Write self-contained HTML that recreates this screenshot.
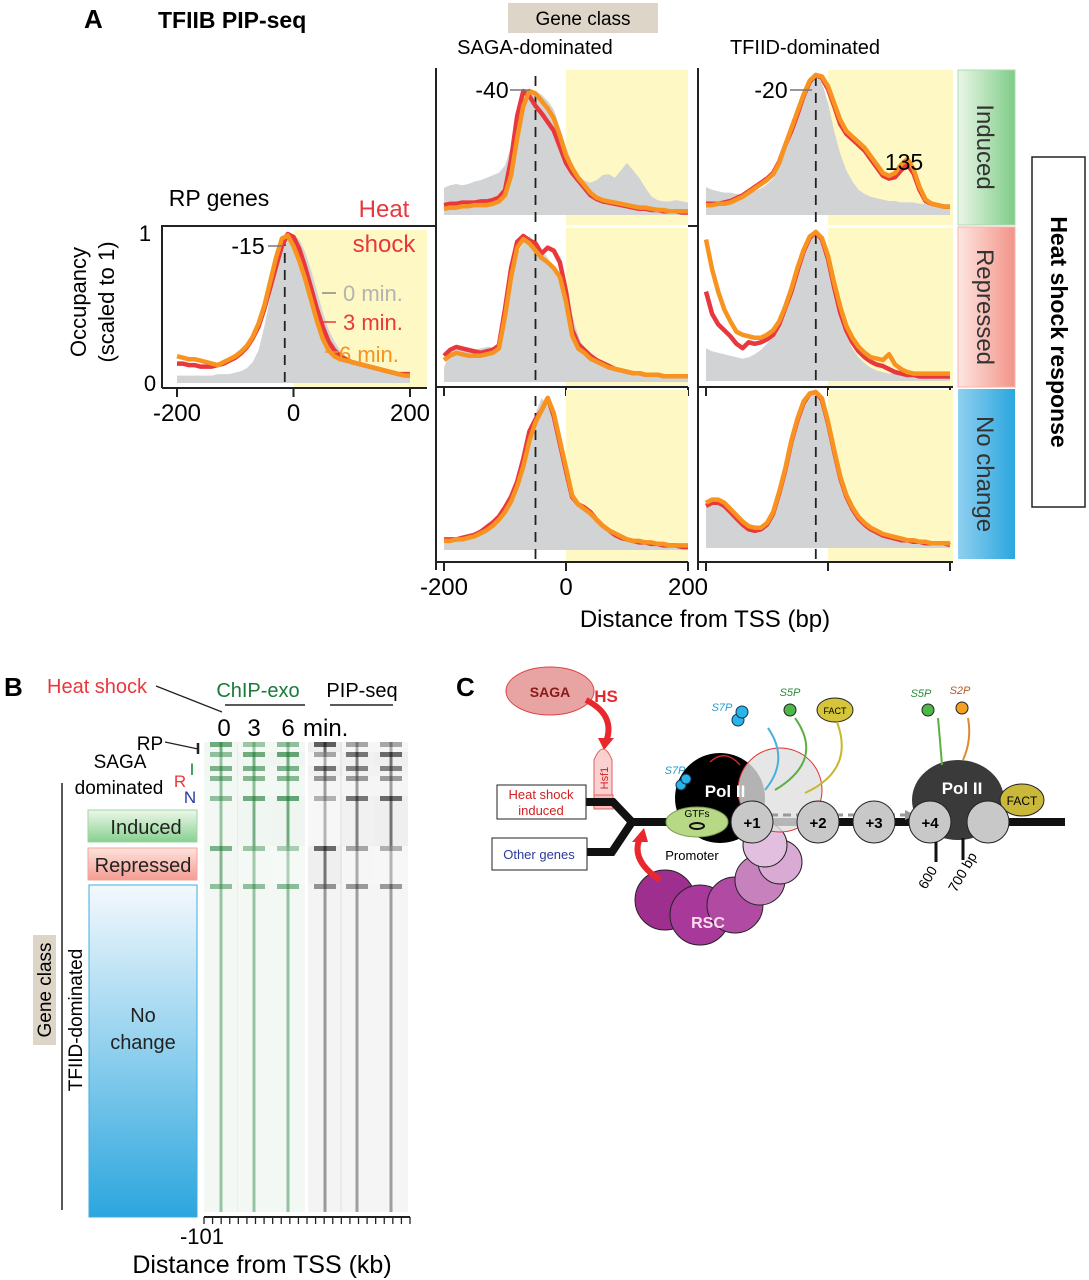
<!DOCTYPE html>
<html><head><meta charset="utf-8"><style>
html,body{margin:0;padding:0;background:#fff}
svg{display:block;font-family:"Liberation Sans",sans-serif}
</style></head><body>
<svg id="fig" width="1089" height="1280" viewBox="0 0 1089 1280">
<defs>
<linearGradient id="gInd" x1="0" y1="0" x2="0" y2="1"><stop offset="0" stop-color="#eef8ea"/><stop offset="1" stop-color="#86d08f"/></linearGradient>
<linearGradient id="gRep" x1="0" y1="0" x2="0" y2="1"><stop offset="0" stop-color="#fde3dc"/><stop offset="1" stop-color="#f39c92"/></linearGradient>
<linearGradient id="gNo" x1="0" y1="0" x2="0" y2="1"><stop offset="0" stop-color="#f4f9fd"/><stop offset="1" stop-color="#2ba6de"/></linearGradient>
<linearGradient id="gIndH" x1="0" y1="0" x2="1" y2="0"><stop offset="0" stop-color="#eaf6e6"/><stop offset="1" stop-color="#7fcc88"/></linearGradient>
<linearGradient id="gRepH" x1="0" y1="0" x2="1" y2="0"><stop offset="0" stop-color="#fde6e0"/><stop offset="1" stop-color="#f29388"/></linearGradient>
<linearGradient id="gNoH" x1="0" y1="0" x2="1" y2="0"><stop offset="0" stop-color="#8fd0f0"/><stop offset="1" stop-color="#2ba6de"/></linearGradient>
</defs>

<text x="84" y="28" font-size="26" font-weight="bold">A</text>
<text x="158" y="28" font-size="23" font-weight="bold">TFIIB PIP-seq</text>
<rect x="508" y="3" width="150" height="30" fill="#ddd5c8"/>
<text x="583" y="25" font-size="19" text-anchor="middle">Gene class</text>
<text x="535" y="54" font-size="20" text-anchor="middle">SAGA-dominated</text>
<text x="805" y="54" font-size="20" text-anchor="middle">TFIID-dominated</text>
<text x="219" y="206" font-size="23" text-anchor="middle">RP genes</text>
<g id="chartsA"></g>
<text x="384" y="217" font-size="24" fill="#e8383d" text-anchor="middle">Heat</text>
<text x="384" y="252" font-size="24" fill="#e8383d" text-anchor="middle">shock</text>
<g>
<line x1="322" y1="293" x2="336" y2="293" stroke="#888" stroke-width="1.5"/>
<text x="343" y="301" font-size="22" fill="#b3b3b3">0 min.</text>
<line x1="320" y1="322" x2="336" y2="322" stroke="#e8383d" stroke-width="1.5"/>
<text x="343" y="330" font-size="22" fill="#e8383d">3 min.</text>
<line x1="325" y1="352" x2="338" y2="352" stroke="#f7931e" stroke-width="1.5"/>
<text x="339" y="362" font-size="22" fill="#f7931e">6 min.</text>
</g>
<text transform="translate(86,302) rotate(-90)" font-size="22" text-anchor="middle">Occupancy</text>
<text transform="translate(114,302) rotate(-90)" font-size="22" text-anchor="middle">(scaled to 1)</text>
<text x="145" y="241" font-size="22" text-anchor="middle">1</text>
<text x="150" y="391" font-size="22" text-anchor="middle">0</text>
<text x="705" y="627" font-size="24" text-anchor="middle">Distance from TSS (bp)</text>

<rect x="958" y="70" width="57" height="155" fill="url(#gIndH)" stroke="#a8dcb0"/>
<text transform="translate(977,147) rotate(90)" font-size="24" fill="#333" text-anchor="middle">Induced</text>
<rect x="958" y="227" width="57" height="160" fill="url(#gRepH)" stroke="#f5b4ab"/>
<text transform="translate(977,307) rotate(90)" font-size="24" fill="#333" text-anchor="middle">Repressed</text>
<rect x="958" y="389" width="57" height="170" fill="url(#gNoH)"/>
<text transform="translate(977,474) rotate(90)" font-size="24" fill="#333" text-anchor="middle">No change</text>
<rect x="1032" y="157" width="53" height="350" fill="#fff" stroke="#222" stroke-width="1.5"/>
<text transform="translate(1051,332) rotate(90)" font-size="23" font-weight="bold" text-anchor="middle">Heat shock response</text>

<text x="4" y="696" font-size="26" font-weight="bold">B</text>
<text x="47" y="693" font-size="20" fill="#e8383d">Heat shock</text>
<line x1="156" y1="686" x2="222" y2="712" stroke="#222" stroke-width="1.3"/>
<text x="258" y="697" font-size="20" fill="#1a7a3a" text-anchor="middle">ChIP-exo</text>
<line x1="225" y1="705" x2="305" y2="705" stroke="#222" stroke-width="1.5"/>
<text x="362" y="697" font-size="20" text-anchor="middle">PIP-seq</text>
<line x1="330" y1="705" x2="393" y2="705" stroke="#222" stroke-width="1.5"/>
<text x="224" y="736" font-size="24" text-anchor="middle">0</text>
<text x="254" y="736" font-size="24" text-anchor="middle">3</text>
<text x="288" y="736" font-size="24" text-anchor="middle">6</text>
<text x="303" y="736" font-size="24">min.</text>
<text x="150" y="750" font-size="19" text-anchor="middle">RP</text>
<line x1="165" y1="742" x2="198" y2="749" stroke="#222" stroke-width="1.3"/>
<line x1="198" y1="743" x2="198" y2="754" stroke="#222" stroke-width="2.5"/>
<text x="120" y="768" font-size="19" text-anchor="middle">SAGA</text>
<text x="119" y="794" font-size="19" text-anchor="middle">dominated</text>
<text x="192" y="775" font-size="17" fill="#1a8a3a" text-anchor="middle">I</text>
<text x="180" y="787" font-size="17" fill="#e8383d" text-anchor="middle">R</text>
<text x="190" y="803" font-size="17" fill="#2a3a9a" text-anchor="middle">N</text>
<line x1="62" y1="783" x2="62" y2="1210" stroke="#222" stroke-width="1.5"/>
<rect x="88" y="810" width="109" height="32" fill="url(#gInd)" stroke="#9ed6a3"/>
<text x="146" y="834" font-size="20" fill="#222" text-anchor="middle">Induced</text>
<rect x="88" y="848" width="109" height="32" fill="url(#gRep)" stroke="#f1a59b"/>
<text x="143" y="872" font-size="20" fill="#222" text-anchor="middle">Repressed</text>
<rect x="89" y="885" width="108" height="332" fill="url(#gNo)" stroke="#3aaee0"/>
<text x="143" y="1022" font-size="20" fill="#222" text-anchor="middle">No</text>
<text x="143" y="1049" font-size="20" fill="#222" text-anchor="middle">change</text>
<rect x="33" y="935" width="23" height="110" fill="#ddd5c8"/>
<text transform="translate(51,990) rotate(-90)" font-size="19" text-anchor="middle">Gene class</text>
<text transform="translate(82,1020) rotate(-90)" font-size="19" text-anchor="middle">TFIID-dominated</text>
<g id="heatmap"></g>
<g id="hmaxis"></g>
<text x="202" y="1244" font-size="22" text-anchor="middle">-101</text>
<text x="262" y="1273" font-size="25" text-anchor="middle">Distance from TSS (kb)</text>

<g>
<text x="456" y="696" font-size="26" font-weight="bold">C</text>
<ellipse cx="550" cy="691" rx="44" ry="24" fill="#e8a3a3" stroke="#e04040" stroke-width="1"/>
<text x="550" y="697" font-size="14" font-weight="bold" fill="#8a1a1a" text-anchor="middle">SAGA</text>
<text x="606" y="702" font-size="17" font-weight="bold" fill="#e8282d" text-anchor="middle">HS</text>
<path d="M586,700 Q616,715 606,742" fill="none" stroke="#e8282d" stroke-width="6"/>
<polygon points="598,738 614,738 604,750" fill="#e8282d"/>
<path d="M594,800 L594,760 Q603,738 612,760 L612,800 Z" fill="#fbd0d0" stroke="#e06060"/>
<rect x="594" y="795" width="19" height="14" fill="#f8bcbc" stroke="#e06060"/>
<text transform="translate(608,778) rotate(-90)" font-size="11" fill="#d02020" text-anchor="middle">Hsf1</text>
<path d="M585,802 L613,802 L632,822 L1065,822" fill="none" stroke="#111" stroke-width="8"/>
<path d="M587,852 L612,852 L632,822" fill="none" stroke="#111" stroke-width="8"/>
<rect x="497" y="785" width="89" height="34" fill="#fff" stroke="#222"/>
<text x="541" y="799" font-size="13" fill="#d02020" text-anchor="middle">Heat shock</text>
<text x="541" y="815" font-size="13" fill="#d02020" text-anchor="middle">induced</text>
<rect x="492" y="838" width="95" height="32" fill="#fff" stroke="#222"/>
<text x="539" y="859" font-size="13" fill="#2a3a9a" text-anchor="middle">Other genes</text>
<circle cx="665" cy="900" r="30" fill="#9e2f8e" stroke="#222"/>
<circle cx="700" cy="915" r="30" fill="#a8399a" stroke="#222"/>
<circle cx="735" cy="905" r="28" fill="#b04aa3" stroke="#222"/>
<circle cx="760" cy="880" r="25" fill="#c782bd" stroke="#222"/>
<circle cx="780" cy="862" r="22" fill="#d9aad3" stroke="#222"/>
<circle cx="765" cy="845" r="22" fill="#e3bfdf" stroke="#222"/>
<text x="708" y="928" font-size="16" font-weight="bold" fill="#fde" text-anchor="middle">RSC</text>
<path d="M660,880 Q630,860 640,838" fill="none" stroke="#e8282d" stroke-width="6"/>
<polygon points="632,842 648,842 644,828" fill="#e8282d"/>
<circle cx="720" cy="798" r="45" fill="#000"/>
<circle cx="780" cy="790" r="42" fill="#e0e0e0" fill-opacity="0.8" stroke="#e03030"/>
<text x="725" y="797" font-size="17" font-weight="bold" fill="#fff" text-anchor="middle">Pol II</text>
<ellipse cx="697" cy="822" rx="31" ry="15" fill="#b7d884" stroke="#7a9a50"/>
<ellipse cx="697" cy="826" rx="7" ry="3" fill="none" stroke="#111" stroke-width="2"/>
<text x="697" y="817" font-size="10" text-anchor="middle">GTFs</text>
<text x="692" y="860" font-size="13" text-anchor="middle">Promoter</text>
<circle cx="681" cy="785" r="5" fill="#2ab4e8" stroke="#135"/>
<circle cx="686" cy="779" r="5" fill="#2ab4e8" stroke="#135"/>
<text x="675" y="774" font-size="11" font-style="italic" fill="#2a9ad0" text-anchor="middle">S7P</text>
<path d="M710,762 Q725,748 740,765" fill="none" stroke="#e03030" stroke-width="1.3"/>
<line x1="770" y1="815" x2="905" y2="815" stroke="#999" stroke-width="3" stroke-dasharray="8,5"/>
<polygon points="905,810 915,815 905,820" fill="#999"/>
<circle cx="738" cy="720" r="6" fill="#2ab4e8" stroke="#135"/>
<circle cx="742" cy="712" r="6" fill="#2ab4e8" stroke="#135"/>
<text x="722" y="711" font-size="11" font-style="italic" fill="#2a9ad0" text-anchor="middle">S7P</text>
<circle cx="790" cy="710" r="6" fill="#4cb848" stroke="#222"/>
<text x="790" y="696" font-size="11" font-style="italic" fill="#2a8a3a" text-anchor="middle">S5P</text>
<ellipse cx="835" cy="710" rx="18" ry="12" fill="#d4c53a" stroke="#222"/>
<text x="835" y="714" font-size="9" text-anchor="middle">FACT</text>
<path d="M765,790 Q790,760 768,728" fill="none" stroke="#4ab0e0" stroke-width="2"/>
<path d="M795,718 Q825,760 775,790" fill="none" stroke="#5ab040" stroke-width="2"/>
<path d="M837,722 Q855,770 805,793" fill="none" stroke="#c8b830" stroke-width="2"/>
<ellipse cx="958" cy="800" rx="46" ry="40" fill="#3a3a3a"/>
<text x="962" y="794" font-size="17" font-weight="bold" fill="#fff" text-anchor="middle">Pol II</text>
<ellipse cx="1022" cy="800" rx="22" ry="16" fill="#c9b83a" stroke="#222"/>
<text x="1022" y="805" font-size="12" text-anchor="middle">FACT</text>
<circle cx="928" cy="710" r="6" fill="#4cb848" stroke="#222"/>
<text x="921" y="697" font-size="11" font-style="italic" fill="#2a8a3a" text-anchor="middle">S5P</text>
<circle cx="962" cy="708" r="6" fill="#f5a020" stroke="#222"/>
<text x="960" y="694" font-size="11" font-style="italic" fill="#b05a20" text-anchor="middle">S2P</text>
<path d="M942,765 Q940,740 938,718" fill="none" stroke="#5ab040" stroke-width="2"/>
<path d="M968,718 Q972,740 963,760" fill="none" stroke="#e08a30" stroke-width="2"/>
<circle cx="752" cy="822" r="21" fill="#c8c8c8" stroke="#222"/>
<text x="752" y="828" font-size="15" font-weight="bold" text-anchor="middle">+1</text>
<circle cx="818" cy="822" r="21" fill="#c8c8c8" stroke="#222"/>
<text x="818" y="828" font-size="15" font-weight="bold" text-anchor="middle">+2</text>
<circle cx="874" cy="822" r="21" fill="#c8c8c8" stroke="#222"/>
<text x="874" y="828" font-size="15" font-weight="bold" text-anchor="middle">+3</text>
<circle cx="930" cy="822" r="21" fill="#c8c8c8" stroke="#222"/>
<text x="930" y="828" font-size="15" font-weight="bold" text-anchor="middle">+4</text>
<circle cx="988" cy="822" r="21" fill="#c8c8c8" stroke="#222"/>
<line x1="936" y1="842" x2="936" y2="862" stroke="#111" stroke-width="3"/>
<line x1="963" y1="838" x2="963" y2="860" stroke="#111" stroke-width="3"/>
<text transform="translate(926,890) rotate(-60)" font-size="14">600</text>
<text transform="translate(956,893) rotate(-60)" font-size="14">700 bp</text>
</g>
</svg>

<script>
var bp = [-200,-190,-180,-170,-160,-150,-140,-130,-120,-110,-100,-90,-80,-70,-60,-50,-40,-30,-20,-10,0,10,20,30,40,50,60,70,80,90,100,110,120,130,140,150,160,170,180,190,200];
var xTicks = [-200, 0, 200];
var rpGray   = [5,5,5,5,5,5,5,6,6,6,7,8,10,14,22,38,58,78,92,99,100,96,88,76,62,48,36,28,22,18,15,13,11,10,9,8,7,6,6,5,5];
var rpRed    = [13,13,12,12,11,11,11,12,13,15,17,20,24,30,38,50,64,78,92,100,98,90,78,64,50,38,28,22,18,16,14,13,12,11,10,9,8,7,6,6,6];
var rpOrange = [18,17,16,16,15,14,13,12,14,16,18,21,25,31,40,52,68,84,97,99,92,82,70,56,42,30,22,18,16,15,14,13,12,11,10,9,8,7,6,5,5];
var sagaIndGray   = [22,24,25,24,25,27,28,30,32,34,40,55,75,90,98,100,97,92,85,70,55,42,32,28,26,28,32,33,30,36,42,36,30,22,15,12,11,11,12,11,10];
var sagaIndRed    = [8,9,9,10,10,10,11,11,12,14,20,45,80,100,96,88,82,75,68,55,42,34,28,22,16,13,11,10,9,8,7,6,5,5,4,4,3,3,3,2,2];
var sagaIndOrange = [5,6,6,7,7,8,8,8,9,11,16,32,62,88,100,98,92,86,78,64,48,38,30,24,18,14,12,11,10,9,8,7,6,6,5,4,4,3,3,3,3];
var tfiidIndGray   = [20,18,17,16,16,15,15,16,17,19,22,26,34,48,64,78,89,97,100,95,80,60,44,32,24,18,15,13,12,11,10,10,9,9,9,8,8,8,7,7,7];
var tfiidIndRed    = [8,8,8,9,10,12,14,17,20,23,26,30,38,50,60,72,85,95,100,98,90,78,65,58,54,50,46,40,34,28,26,27,32,36,30,18,10,8,7,6,6];
var tfiidIndOrange = [7,7,8,8,9,11,13,16,19,22,25,29,37,50,62,74,86,96,100,99,92,80,68,60,56,52,48,42,36,30,28,30,36,40,33,20,11,8,7,6,6];
var sagaRepGray   = [10,20,22,22,22,22,23,24,24,26,55,75,88,95,100,95,90,85,78,70,60,46,32,22,16,13,11,10,9,8,7,6,6,5,5,5,4,4,4,4,4];
var sagaRepRed    = [18,22,24,23,22,21,20,21,22,25,50,78,96,100,97,95,88,92,90,82,62,36,26,22,18,15,13,11,9,8,7,6,6,5,5,5,4,4,4,4,4];
var sagaRepOrange = [15,18,20,19,18,18,18,19,20,23,45,72,92,98,95,90,85,82,78,72,55,32,23,20,16,14,12,10,9,8,7,6,6,5,5,5,4,4,4,4,4];
var tfiidRepGray   = [22,20,19,18,17,16,15,16,18,21,25,30,37,48,60,74,87,96,100,94,80,60,43,31,22,16,12,9,7,6,5,5,4,4,4,3,3,3,3,3,3];
var tfiidRepRed    = [60,45,38,34,30,25,22,26,25,26,28,31,38,49,60,74,87,96,100,95,82,63,46,34,26,20,16,13,11,10,8,6,5,4,4,3,3,3,3,3,3];
var tfiidRepOrange = [95,75,60,48,40,33,31,30,29,29,31,34,40,50,62,76,88,97,100,96,84,66,50,37,29,23,19,16,15,14,18,11,8,6,5,5,5,5,5,5,5];
var sagaNoGray   = [5,6,6,7,8,9,10,12,15,19,25,32,40,55,75,90,100,95,85,70,50,36,30,28,25,20,15,12,10,8,6,5,5,4,4,4,3,3,3,3,3];
var sagaNoRed    = [7,7,7,8,9,10,12,15,18,22,28,35,45,60,78,86,92,100,88,70,52,35,30,28,25,20,16,13,10,8,7,6,5,5,4,4,3,3,3,2,2];
var sagaNoOrange = [6,6,7,7,8,9,11,13,16,20,25,32,42,55,72,84,92,100,90,72,54,36,30,27,24,20,16,13,11,9,7,6,6,5,5,4,4,3,3,3,3];
var tfiidNoGray   = [28,30,30,28,24,20,16,13,12,12,15,22,35,50,68,82,93,99,100,95,80,62,45,33,25,19,15,12,10,8,7,6,5,5,4,4,3,3,3,3,2];
var tfiidNoRed    = [27,29,29,27,23,19,15,12,11,12,15,22,35,50,68,82,93,99,100,95,80,62,45,33,25,19,15,12,10,8,7,6,5,5,4,4,3,3,3,3,2];
var tfiidNoOrange = [29,31,31,29,25,21,17,14,13,13,16,23,36,51,69,83,94,99,100,96,81,63,46,34,26,20,16,13,11,9,8,7,6,5,5,4,4,3,3,3,3];
var peakMarks = [-15, -50, -20];

var hmGroups = ['RP','SAGA-I','SAGA-R','SAGA-N','TFIID-I','TFIID-R','TFIID-N'];
var hmChip0 = [0.9,0.6,0.8,0.7,0.6,0.8,0.6];
var hmChip3 = [0.5,0.9,0.8,0.7,0.9,0.5,0.6];
var hmChip6 = [0.6,1.0,0.8,0.7,1.0,0.4,0.65];
var hmPip0  = [1.0,0.4,0.8,0.5,0.3,0.9,0.55];
var hmPip3  = [0.4,0.8,0.7,0.5,0.8,0.4,0.5];
var hmPip6  = [0.4,0.9,0.7,0.5,0.9,0.3,0.5];

var NS = 'http://www.w3.org/2000/svg';
function mk(tag, attrs, parent){ var e=document.createElementNS(NS,tag); for(var k in attrs) e.setAttribute(k,attrs[k]); parent.appendChild(e); return e; }
var G = document.getElementById('chartsA');

function drawPanel(o){
  var xs = function(v){ return o.x0 + (v+200)/400*(o.x1-o.x0); };
  var ys = function(v){ return o.yb - v/100*(o.yb-o.yt); };
  var g = mk('g',{},G);
  
  
  var yel = mk('rect',{x:xs(0),y:o.top,width:o.right-xs(0),height:o.bottom-o.top,fill:'#fdf8c4'},g);
  
  
  var d='M'+xs(bp[0])+','+ys(0);
  for(var i=0;i<bp.length;i++) d+=' L'+xs(bp[i]).toFixed(1)+','+ys(o.gray[i]).toFixed(1);
  d+=' L'+xs(bp[bp.length-1])+','+ys(0)+' Z';
  var a = mk('path',{d:d,fill:'#d1d3d4'},g);
  
  
  var dl = mk('line',{x1:xs(o.mark),x2:xs(o.mark),y1:o.top+6,y2:o.bottom,stroke:'#222','stroke-width':1.8,'stroke-dasharray':'10,7'},g);
  
  
  [[o.red,'#e8383d','series-3min-line'],[o.orange,'#f7931e','series-6min-line']].forEach(function(s){
    var p='';
    for(var i=0;i<bp.length;i++) p+=(i?' L':'M')+xs(bp[i]).toFixed(1)+','+ys(s[0][i]).toFixed(1);
    var l = mk('path',{d:p,fill:'none',stroke:s[1],'stroke-width':4.5,'stroke-linejoin':'round'},g);
    
    
  });
  if(o.axis){
    var ax = mk('line',{x1:o.axisX0,x2:o.right,y1:o.bottom,y2:o.bottom,stroke:'#222','stroke-width':2},g);
    
    
    xTicks.forEach(function(t){
      var tk = mk('line',{x1:xs(t),x2:xs(t),y1:o.bottom,y2:o.bottom+9,stroke:'#222','stroke-width':2},g);
      
      
      if(o.labels){
        var tx = mk('text',{x:xs(t),y:o.bottom+33,'font-size':24,'text-anchor':'middle'},g);
        tx.textContent = t;
        
        
      }
    });
  }
}

drawPanel({name:'rp-genes-panel',x0:177,x1:410,yt:234,yb:383,top:230,bottom:388,right:427,gray:rpGray,red:rpRed,orange:rpOrange,mark:peakMarks[0],axis:true,labels:true,axisX0:162});
var c1 = {x0:444,x1:688}, c2={x0:706,x1:950};
drawPanel({name:'saga-induced-panel',x0:c1.x0,x1:c1.x1,yt:91,yb:215,top:70,bottom:225,right:688,gray:sagaIndGray,red:sagaIndRed,orange:sagaIndOrange,mark:peakMarks[1]});
drawPanel({name:'tfiid-induced-panel',x0:c2.x0,x1:c2.x1,yt:75,yb:215,top:70,bottom:225,right:953,gray:tfiidIndGray,red:tfiidIndRed,orange:tfiidIndOrange,mark:peakMarks[2]});
drawPanel({name:'saga-repressed-panel',x0:c1.x0,x1:c1.x1,yt:236,yb:382,top:228,bottom:387,right:688,gray:sagaRepGray,red:sagaRepRed,orange:sagaRepOrange,mark:peakMarks[1],axis:true,axisX0:437});
drawPanel({name:'tfiid-repressed-panel',x0:c2.x0,x1:c2.x1,yt:232,yb:381,top:228,bottom:387,right:953,gray:tfiidRepGray,red:tfiidRepRed,orange:tfiidRepOrange,mark:peakMarks[2],axis:true,axisX0:699});
drawPanel({name:'saga-no-change-panel',x0:c1.x0,x1:c1.x1,yt:398,yb:550,top:390,bottom:562,right:688,gray:sagaNoGray,red:sagaNoRed,orange:sagaNoOrange,mark:peakMarks[1],axis:true,labels:true,axisX0:437});
drawPanel({name:'tfiid-no-change-panel',x0:c2.x0,x1:c2.x1,yt:392,yb:548,top:390,bottom:562,right:953,gray:tfiidNoGray,red:tfiidNoRed,orange:tfiidNoOrange,mark:peakMarks[2],axis:true,axisX0:699});

[[162,225,162,388],[162,226,437,226],[436,68,436,570],[698,68,698,570],[688,226,698,226]].forEach(function(l){
  var e = mk('line',{x1:l[0],y1:l[1],x2:l[2],y2:l[3],stroke:'#222','stroke-width':2},G);
  
  
});
[['-15',248,254,268,282],['-40',492,98,510,530],['-20',771,98,790,812],['135',904,170,0,0]].forEach(function(a){
  var t = mk('text',{x:a[1],y:a[2],'font-size':23,'text-anchor':'middle'},G);
  t.textContent = a[0];
  
  
  if(a[3]){
    var ln = mk('line',{x1:a[3],x2:a[4],y1:a[2]-8,y2:a[2]-8,stroke:'#777','stroke-width':1.5},G);
    
    
  }
});

var H = document.getElementById('heatmap');
var bandY = [742,752,766,776,796,846,884,1212];
var tracks = [[hmChip0,221,'#1a7a32'],[hmChip3,254,'#1a7a32'],[hmChip6,288,'#1a7a32'],[hmPip0,325,'#111'],[hmPip3,357,'#111'],[hmPip6,391,'#111']];
var tw = 34;
tracks.forEach(function(tr){
  var vals=tr[0], cx=tr[1], col=tr[2];
  for(var gi=0; gi<hmGroups.length; gi++){
    var y0=bandY[gi], y1=bandY[gi+1], v=vals[gi];
    var bg = mk('rect',{x:cx-tw/2,y:y0,width:tw,height:y1-y0,fill:col,opacity:(0.02+0.05*v).toFixed(3)},H);
    
    
    var st = mk('rect',{x:cx-1.5,y:y0,width:3,height:y1-y0,fill:col,opacity:(0.15+0.45*v).toFixed(2)},H);
    
    
    var head = mk('rect',{x:cx-tw/2+6,y:y0,width:tw-12,height:Math.min(5,y1-y0),fill:col,opacity:(0.15+0.5*v).toFixed(2)},H);
    
    
  }
});
var HA = document.getElementById('hmaxis');
var axl = mk('line',{x1:204,x2:410,y1:1217,y2:1217,stroke:'#222','stroke-width':2},HA);


for(var k=0;k<=24;k++){
  var tx = 204 + k*206/24;
  var t = mk('line',{x1:tx,x2:tx,y1:1217,y2:1224,stroke:'#222','stroke-width':1.3},HA);
  
  
}
</script>
</body></html>
